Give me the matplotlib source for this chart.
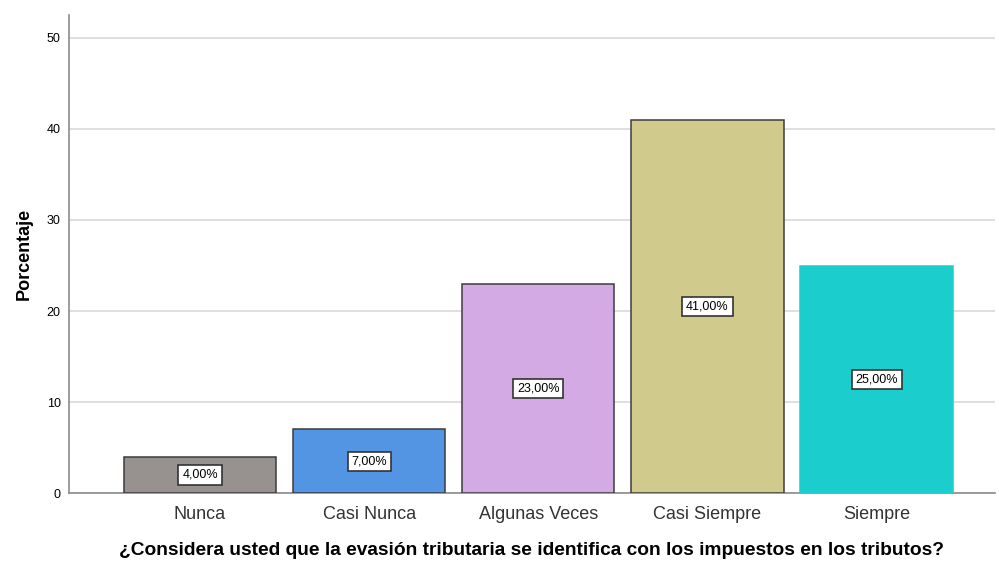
import matplotlib.pyplot as plt

plt.rcParams['font.family'] = ['Liberation Sans', 'DejaVu Sans']

categorias = ['Nunca', 'Casi Nunca', 'Algunas Veces', 'Casi Siempre', 'Siempre']
porcentajes = [4.0, 7.0, 23.0, 41.0, 25.0]
etiquetas = ['4,00%', '7,00%', '23,00%', '41,00%', '25,00%']
colores = ['#97928f', '#5495e3', '#d3aae4', '#d0ca8d', '#1ccdcd']
bordes = ['#3c3c3c', '#3c3c3c', '#3c3c3c', '#3c3c3c', '#1ccdcd']

fig = plt.figure(figsize=(9.99, 5.61), dpi=100)
ax = fig.add_axes([0.069, 0.121, 0.927, 0.852])

x = range(len(categorias))
ax.bar(x, porcentajes, width=0.9, color=colores, edgecolor=bordes, linewidth=1.1, zorder=3)

# etiquetas en el centro de cada barra
for i, v in enumerate(porcentajes):
    ax.text(i, v / 2, etiquetas[i], ha='center', va='center', fontsize=9,
            color='black', zorder=4,
            bbox=dict(boxstyle='square,pad=0.3', facecolor='white',
                      edgecolor='#333333', linewidth=1.2))

ax.set_xlim(-0.775, 4.70)
ax.set_ylim(0, 52.5)
ax.set_yticks([0, 10, 20, 30, 40, 50])
ax.set_xticks(list(x))
ax.set_xticklabels(categorias, fontsize=13, color='#333333')
ax.tick_params(axis='y', length=0, pad=6, labelsize=9)
ax.tick_params(axis='x', length=0, pad=9)

ax.yaxis.grid(True, color='#d9d9d9', linewidth=1.2, zorder=0)
ax.set_axisbelow(True)
ax.spines['top'].set_visible(False)
ax.spines['right'].set_visible(False)
ax.spines['left'].set_color('#8c8c8c')
ax.spines['bottom'].set_color('#8c8c8c')
ax.spines['left'].set_linewidth(1.2)
ax.spines['bottom'].set_linewidth(1.2)

ax.set_ylabel('Porcentaje', fontsize=13, fontweight='bold', labelpad=10)
ax.set_xlabel('¿Considera usted que la evasión tributaria se identifica con los impuestos en los tributos?',
              fontsize=13.8, fontweight='bold', labelpad=14)

fig.savefig('out.png', dpi=100)
